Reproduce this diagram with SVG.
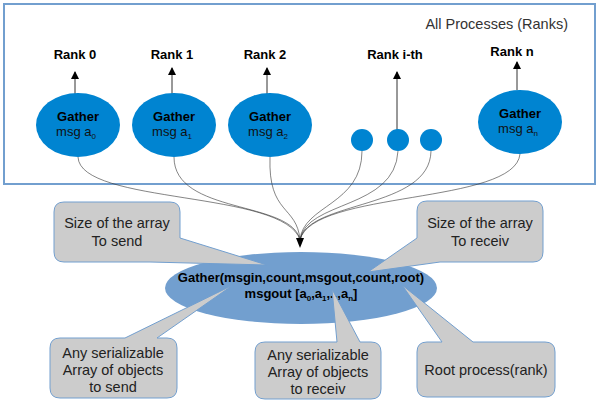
<svg xmlns="http://www.w3.org/2000/svg" width="600" height="401" viewBox="0 0 600 401">
<defs>
<marker id="ah" markerWidth="8" markerHeight="10" refX="7" refY="4" orient="auto" markerUnits="userSpaceOnUse" viewBox="0 0 8 8">
<path d="M0,0 L8,4 L0,8 Z" fill="#000"/>
</marker>
<style>
.frame{fill:#fff;stroke:#729fcf;stroke-width:2}
.node{fill:#0084d1}
.lbl{font-family:"Liberation Sans",Arial,sans-serif;font-size:13px;font-weight:bold;fill:#000;text-anchor:middle}
.ntxt{font-family:"Liberation Sans",Arial,sans-serif;font-size:13px;fill:#111;text-anchor:middle}
.sub{font-size:8px}
.arr{stroke:#333;stroke-width:1;fill:none;marker-end:url(#ah)}
.cur{stroke:#333;stroke-width:0.6;fill:none}
.call{fill:#cccccc;stroke:#729fcf;stroke-width:1}
.ctxt{font-family:"Liberation Sans",Arial,sans-serif;font-size:14.5px;fill:#222;text-anchor:middle}
</style>
</defs>
<rect width="600" height="401" fill="#fff"/>
<g id="frame">
<rect class="frame" x="4" y="4" width="591" height="180"/>
<text x="568" y="29" style="font-family:'Liberation Sans',Arial,sans-serif;font-size:14.5px;fill:#333;text-anchor:end">All Processes (Ranks)</text>
</g>
<g id="connectors">
<line class="arr" x1="75" y1="98" x2="75" y2="72"/>
<line class="arr" x1="172" y1="95" x2="172" y2="68"/>
<line class="arr" x1="267" y1="95" x2="267" y2="68"/>
<line class="arr" x1="397" y1="132" x2="397" y2="72"/>
<line class="arr" x1="517" y1="90" x2="517" y2="62"/>
<path class="cur" d="M78,157 C80,205 285,190 300,240"/>
<path class="cur" d="M174,157 C174,215 292,200 300,240"/>
<path class="cur" d="M270,157 C268,215 297,205 300,240"/>
<path class="cur" d="M362,151 C362,205 303,205 300,240"/>
<path class="cur" d="M398,151 C395,210 306,200 300,240"/>
<path class="cur" d="M431,151 C430,210 308,200 300,240"/>
<path class="cur" d="M520,154 C515,205 312,190 300,240"/>
<path d="M296,238 L304,238 L300,248 Z" fill="#000"/>
</g>
<g id="rank0">
<text class="lbl" x="75" y="59">Rank 0</text>
<ellipse class="node" cx="78" cy="125" rx="42" ry="32"/>
<text class="lbl" x="78" y="121">Gather</text>
<text class="ntxt" x="76" y="136">msg a<tspan class="sub" dy="3">0</tspan></text>
</g>
<g id="rank1">
<text class="lbl" x="172" y="59">Rank 1</text>
<ellipse class="node" cx="174" cy="125" rx="42" ry="32"/>
<text class="lbl" x="174" y="121">Gather</text>
<text class="ntxt" x="172" y="136">msg a<tspan class="sub" dy="3">1</tspan></text>
</g>
<g id="rank2">
<text class="lbl" x="265" y="59">Rank 2</text>
<ellipse class="node" cx="270" cy="125" rx="42" ry="32"/>
<text class="lbl" x="270" y="121">Gather</text>
<text class="ntxt" x="268" y="136">msg a<tspan class="sub" dy="3">2</tspan></text>
</g>
<g id="rank-i">
<text class="lbl" x="395" y="59">Rank i-th</text>
<circle class="node" cx="362" cy="140" r="11"/>
<circle class="node" cx="398" cy="140" r="11"/>
<circle class="node" cx="431" cy="140" r="11"/>
</g>
<g id="rankn">
<text class="lbl" x="512" y="56">Rank n</text>
<ellipse class="node" cx="520" cy="122" rx="42" ry="32"/>
<text class="lbl" x="520" y="118">Gather</text>
<text class="ntxt" x="518" y="133">msg a<tspan class="sub" dy="3">n</tspan></text>
</g>
<g id="gather">
<ellipse cx="301" cy="288" rx="136" ry="36" fill="#729fcf"/>
<text class="lbl" x="301" y="282">Gather(msgin,count,msgout,count,root)</text>
<text class="lbl" x="301" y="298">msgout [a<tspan class="sub" dy="3">0</tspan><tspan dy="-3">,a</tspan><tspan class="sub" dy="3">1</tspan><tspan dy="-3">,..,a</tspan><tspan class="sub" dy="3">n</tspan><tspan dy="-3">]</tspan></text>
</g>
<g id="callout-sendcount">
<path class="call" d="M64,202 H170 Q180,202 180,212 V238 L267,265 L150,262 H64 Q54,262 54,252 V212 Q54,202 64,202 Z"/>
<text class="ctxt" x="117" y="228">Size of the array</text>
<text class="ctxt" x="117" y="246">To send</text>
</g>
<g id="callout-recvcount">
<path class="call" d="M427,201 H533 Q543,201 543,211 V252 Q543,262 533,262 H440 L368,272 L417,238 V211 Q417,201 427,201 Z"/>
<text class="ctxt" x="480" y="228">Size of the array</text>
<text class="ctxt" x="480" y="246">To receiv</text>
</g>
<g id="callout-msgin">
<path class="call" d="M60,338 H125 L233,285 L157,338 H167 Q177,338 177,348 V388 Q177,398 167,398 H60 Q50,398 50,388 V348 Q50,338 60,338 Z"/>
<text class="ctxt" x="113" y="358">Any serializable</text>
<text class="ctxt" x="113" y="375">Array of objects</text>
<text class="ctxt" x="113" y="392">to send</text>
</g>
<g id="callout-msgout">
<path class="call" d="M265,342 H337 L332,289 L360,342 H371 Q381,342 381,352 V389 Q381,399 371,399 H265 Q255,399 255,389 V352 Q255,342 265,342 Z"/>
<text class="ctxt" x="318" y="360">Any serializable</text>
<text class="ctxt" x="318" y="377">Array of objects</text>
<text class="ctxt" x="318" y="394">to receiv</text>
</g>
<g id="callout-root">
<path class="call" d="M427,342 H442 L402,285 L473,342 H545 Q555,342 555,352 V387 Q555,397 545,397 H427 Q417,397 417,387 V352 Q417,342 427,342 Z"/>
<text class="ctxt" x="486" y="375">Root process(rank)</text>
</g>
</svg>
